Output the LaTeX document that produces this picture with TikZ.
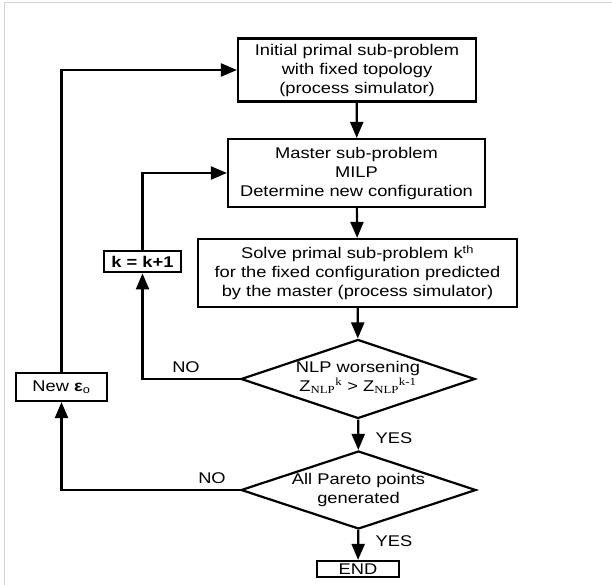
\documentclass[tikz,border=0pt]{standalone}
\usepackage{fontspec}
\setmainfont{Liberation Sans}[FakeStretch=1.18]
\newfontfamily\tmsfont{Liberation Serif}[FakeStretch=1.18]
\usetikzlibrary{arrows.meta,shapes.geometric}
\begin{document}
\begin{tikzpicture}[x=1pt, y=-1pt, line join=miter, >={Triangle[length=16pt,width=13pt]},
	font=\fontsize{15.5}{19}\selectfont,
	box/.style={draw, line width=2.2pt, rectangle, align=center, inner sep=0pt},
	dia/.style={draw, line width=2.2pt, diamond, inner sep=0pt},
	flow/.style={line width=2.2pt, ->},
	lbl/.style={inner sep=0pt}]
	\useasboundingbox (0,0) rectangle (612,585);
	\draw[gray!35, line width=1pt] (4,585) -- (4,3) -- (612,3);
	% boxes
	\node[box, minimum width=238, minimum height=63] (init) at (357,70) {Initial primal sub-problem\\with fixed topology\\(process simulator)};
	\node[box, minimum width=257, minimum height=68] (master) at (356.5,173) {Master sub-problem\\MILP\\Determine new configuration};
	\node[box, minimum width=319, minimum height=68] (solve) at (357.5,273) {Solve primal sub-problem k\textsuperscript{th}\\for the fixed configuration predicted\\by the master (process simulator)};
	\node[box, line width=2.8pt, minimum width=77, minimum height=21] (kinc) at (142.5,261.5) {\bfseries k = k+1};
	\node[box, minimum width=91, minimum height=28] (eps) at (61.5,387) {New \textbf{ε}\textsubscript{o}};
	\node[box, minimum width=82, minimum height=16] (endn) at (358,569) {END};
	% decisions
	\node[dia, minimum width=234, minimum height=79] (worse) at (358,379) {};
	\node[align=center, inner sep=0pt] (worsetxt) at (358,377) {NLP worsening\\Z\textsubscript{\tmsfont NLP}\textsuperscript{\tmsfont k} > Z\textsubscript{\tmsfont NLP}\textsuperscript{\tmsfont k-1}};
	\node[dia, minimum width=235, minimum height=78] (pareto) at (358.5,490) {};
	\node[align=center, inner sep=0pt] (paretotxt) at (358.5,490) {All Pareto points\\generated};
	% connectors
	\draw[flow] (init) -- (master);
	\draw[flow] (master) -- (solve);
	\draw[flow] (solve) -- (worse);
	\draw[flow] (worse) -- (pareto);
	\draw[flow] (pareto) -- (endn);
	\draw[flow] (worse.west) -| (kinc.south);
	\draw[flow] (kinc.north) |- (master.west);
	\draw[flow] (pareto.west) -| (eps.south);
	\draw[flow] (eps.north) |- (init.west);
	\path
	(186,367) node[lbl] (no1) {NO}
	(212,478) node[lbl] (no2) {NO}
	(394,438) node[lbl] (yes1) {YES}
	(394,541) node[lbl] (yes2) {YES};
\end{tikzpicture}
\end{document}
